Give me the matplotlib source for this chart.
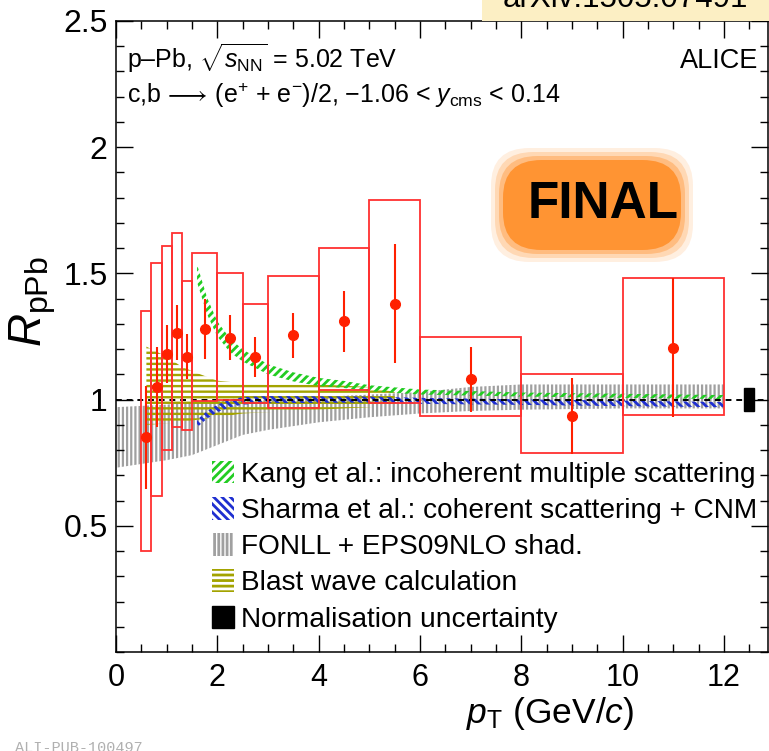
import numpy as np
import matplotlib
matplotlib.use("Agg")
import matplotlib.pyplot as plt
from matplotlib.patches import Rectangle, FancyBboxPatch, Patch

plt.rcParams['font.family'] = ['Liberation Sans', 'DejaVu Sans']
plt.rcParams['mathtext.fontset'] = 'custom'
plt.rcParams['mathtext.rm'] = 'Liberation Sans'
plt.rcParams['mathtext.it'] = 'Liberation Sans:italic'
plt.rcParams['mathtext.bf'] = 'Liberation Sans:bold'

# data points (heavy-flavour electrons, p-Pb)
pt = [0.6, 0.8, 1.0, 1.2, 1.4, 1.75, 2.25, 2.75, 3.5, 4.5, 5.5, 7.0, 9.0, 11.0]
pt_lo = [0.5, 0.7, 0.9, 1.1, 1.3, 1.5, 2.0, 2.5, 3.0, 4.0, 5.0, 6.0, 8.0, 10.0]
pt_hi = [0.7, 0.9, 1.1, 1.3, 1.5, 2.0, 2.5, 3.0, 4.0, 5.0, 6.0, 8.0, 10.0, 12.0]
rppb = [0.85, 1.05, 1.18, 1.265, 1.17, 1.28, 1.245, 1.17, 1.255, 1.31, 1.38, 1.08, 0.935, 1.205]
stat = [0.205, 0.16, 0.115, 0.11, 0.09, 0.12, 0.09, 0.08, 0.09, 0.12, 0.235, 0.13, 0.15, 0.275]
sys_up = [0.50, 0.49, 0.43, 0.395, 0.30, 0.30, 0.255, 0.21, 0.235, 0.29, 0.41, 0.17, 0.165, 0.275]
sys_dn = [0.45, 0.43, 0.38, 0.375, 0.29, 0.285, 0.245, 0.185, 0.29, 0.27, 0.395, 0.145, 0.145, 0.265]

# models
kang_pt = [1.6, 1.8, 2.0, 2.25, 2.5, 3.0, 3.5, 4.0, 4.5, 5.0, 6.0, 7.0, 8.0, 10.0, 12.0]
kang_c = [1.50, 1.37, 1.28, 1.215, 1.175, 1.12, 1.09, 1.07, 1.06, 1.045, 1.03, 1.025, 1.02, 1.015, 1.01]
kang_w = [0.035, 0.033, 0.03, 0.027, 0.024, 0.02, 0.018, 0.016, 0.014, 0.012, 0.01, 0.009, 0.008, 0.008, 0.008]

sharma_pt = [1.6, 1.8, 2.0, 2.25, 2.5, 3.0, 4.0, 5.0, 6.0, 8.0, 10.0, 12.0]
sharma_c = [0.905, 0.94, 0.965, 0.985, 0.995, 1.0, 1.0, 1.0, 0.995, 0.99, 0.985, 0.98]
sharma_w = [0.015, 0.015, 0.015, 0.015, 0.015, 0.014, 0.013, 0.012, 0.012, 0.011, 0.011, 0.01]

fonll_pt = [0.0, 0.5, 1.0, 1.5, 2.0, 2.5, 3.0, 4.0, 5.0, 6.0, 7.0, 8.0, 10.0, 12.0]
fonll_lo = [0.73, 0.745, 0.76, 0.78, 0.82, 0.86, 0.88, 0.91, 0.93, 0.945, 0.955, 0.96, 0.965, 0.965]
fonll_hi = [0.97, 0.975, 0.98, 0.99, 0.995, 1.0, 1.0, 1.01, 1.02, 1.03, 1.05, 1.06, 1.06, 1.06]

bw_pt = [0.6, 1.0, 1.3, 1.6, 2.0, 2.5, 3.0, 4.0, 4.5, 5.0, 5.5]
bw_lo = [0.90, 0.905, 0.91, 0.92, 0.93, 0.945, 0.95, 0.96, 0.965, 0.97, 0.975]
bw_hi = [1.21, 1.17, 1.13, 1.105, 1.075, 1.065, 1.06, 1.06, 1.055, 1.05, 1.03]

norm_pt = 12.5
norm_lo, norm_hi = 0.955, 1.045

fig = plt.figure(figsize=(7.69, 7.51), dpi=100)
ax = fig.add_axes([116 / 769, 99 / 751, 652 / 769, 631 / 751])

# theory bands
plt.rcParams['hatch.linewidth'] = 1.6
ax.fill_between(fonll_pt, fonll_lo, fonll_hi, facecolor='none', edgecolor='#a0a0a0',
                hatch='||||', linewidth=0, zorder=1)
plt.rcParams['hatch.linewidth'] = 1.7
ax.fill_between(bw_pt, bw_lo, bw_hi, facecolor='none', edgecolor='#a3a300',
                hatch='---', linewidth=0, zorder=2)
plt.rcParams['hatch.linewidth'] = 2.0
kc = np.array(kang_c)
kw = np.array(kang_w)
ax.fill_between(kang_pt, kc - kw, kc + kw, facecolor='none', edgecolor='#22cc22',
                hatch='////', linewidth=0, zorder=3)
sc = np.array(sharma_c)
sw = np.array(sharma_w)
ax.fill_between(sharma_pt, sc - sw, sc + sw, facecolor='none', edgecolor='#1f2fd0',
                hatch='\\\\\\\\', linewidth=0, zorder=4)

ax.axhline(1.0, color='black', ls=(0, (3, 2.5)), lw=1.4, zorder=5)

# systematic boxes
for lo, hi, y, su, sd in zip(pt_lo, pt_hi, rppb, sys_up, sys_dn):
    ax.add_patch(Rectangle((lo, y - sd), hi - lo, su + sd, fill=False,
                           edgecolor='#ff3030', lw=1.3, zorder=6))
ax.errorbar(pt, rppb, yerr=stat, fmt='o', color='#ff2000', ms=7, elinewidth=1.5,
            capsize=0, zorder=7)

ax.add_patch(Rectangle((norm_pt - 0.1, norm_lo), 0.2, norm_hi - norm_lo,
                       facecolor='black', edgecolor='black', zorder=8))

ax.set_xlim(0, 12.87)
ax.set_ylim(0, 2.5)
ax.set_xticks([0, 2, 4, 6, 8, 10, 12])
ax.set_xticks(np.arange(0, 12.9, 0.5), minor=True)
ax.set_yticks([0.5, 1, 1.5, 2, 2.5])
ax.set_yticklabels(['0.5', '1', '1.5', '2', '2.5'])
ax.set_yticks(np.arange(0, 2.51, 0.1), minor=True)
ax.tick_params(which='both', direction='in', top=True, right=True, width=1)
ax.tick_params(which='major', length=12)
ax.tick_params(which='minor', length=6)
ax.tick_params(axis='x', labelsize=22, pad=8)
ax.tick_params(axis='y', labelsize=23, pad=6)
for s in ax.spines.values():
    s.set_linewidth(1.1)

fig.text(466 / 769, 1 - 713 / 751, r'$p_{\rm T}$ (GeV/$c$)', fontsize=25.5,
         ha='left', va='center')
fig.text(33 / 769, 1 - 302 / 751, r'$R_{\rm pPb}$', fontsize=33, rotation=90,
         ha='center', va='center')

fig.text(127 / 769, 1 - 68 / 751, r'p–Pb, $\sqrt{s_{\rm NN}}$ = 5.02 TeV', fontsize=18,
         ha='left', va='baseline')
fig.text(127 / 769, 1 - 103 / 751,
         r'c,b$\,\longrightarrow\,$(e$^{+}$ + e$^{-}$)/2, $-$1.06 < $y_{\rm cms}$ < 0.14',
         fontsize=18, ha='left', va='baseline')
fig.text(758 / 769, 1 - 68 / 751, 'ALICE', fontsize=19.5, ha='right', va='baseline')

# FINAL label
for pad, a in [(12, 0.15), (8, 0.25), (4, 0.4), (0, 1.0)]:
    fig.patches.append(FancyBboxPatch((503 / 769 - pad / 769, 1 - 250 / 751 - pad / 751),
                                      178 / 769 + 2 * pad / 769, 90 / 751 + 2 * pad / 751,
                                      boxstyle='round,pad=0,rounding_size=0.05',
                                      transform=fig.transFigure, facecolor='#ff9433',
                                      edgecolor='none', alpha=a, zorder=9))
fig.text(603 / 769, 1 - 205 / 751, 'FINAL', fontsize=37, fontweight='bold',
         ha='center', va='center', zorder=10)

# arXiv banner
fig.patches.append(Rectangle((482 / 769, 1 - 21 / 751), 287 / 769, 21 / 751,
                             transform=fig.transFigure, facecolor='#fcefc4',
                             edgecolor='none', zorder=9))
fig.text(503 / 769, 1 - 7 / 751, 'arXiv:1505.07491', fontsize=22.5, ha='left',
         va='baseline', zorder=10)

fig.text(15 / 769, -1 / 751, 'ALI-PUB-100497', fontsize=11, color='#b0b0b0',
         family='Liberation Mono', ha='left', va='baseline')

handles = [
    Patch(facecolor='none', edgecolor='#22cc22', hatch='////', lw=0),
    Patch(facecolor='none', edgecolor='#1f2fd0', hatch='\\\\\\\\', lw=0),
    Patch(facecolor='none', edgecolor='#a0a0a0', hatch='||||', lw=0),
    Patch(facecolor='none', edgecolor='#a3a300', hatch='---', lw=0),
    Patch(facecolor='black', edgecolor='black'),
]
labels = ['Kang et al.: incoherent multiple scattering',
          'Sharma et al.: coherent scattering + CNM',
          'FONLL + EPS09NLO shad.',
          'Blast wave calculation',
          'Normalisation uncertainty']
leg = fig.legend(handles, labels, loc='upper left',
                 bbox_to_anchor=(212 / 769, 1 - 461 / 751), frameon=False,
                 fontsize=20.2, handlelength=0.8, handleheight=0.85,
                 handletextpad=0.25, labelspacing=0.33, borderpad=0, borderaxespad=0)

fig.savefig('out.png', dpi=100)
